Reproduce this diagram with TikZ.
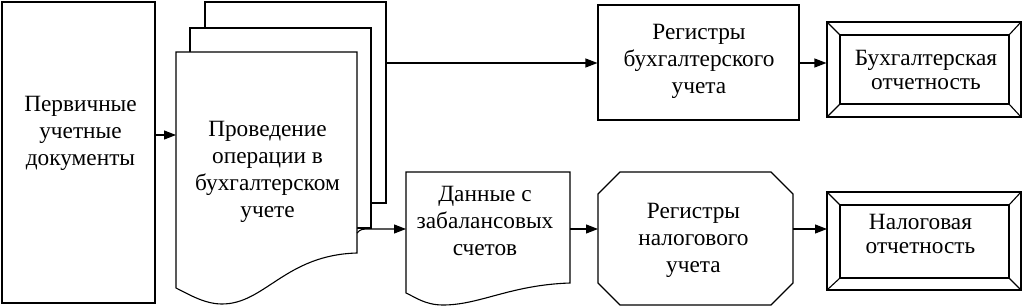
\documentclass[tikz,border=0pt]{standalone}
\usepackage{fontspec}
\setmainfont{Liberation Serif}
\usetikzlibrary{arrows.meta}
\begin{document}
\begin{tikzpicture}[x=1pt,y=-1pt, line width=1.1pt, line join=miter,
  txt/.style={align=center, font=\fontsize{23.3}{27}\selectfont, inner sep=0pt},
  stxt/.style={align=center, font=\fontsize{23.3}{24}\selectfont, inner sep=0pt},
  arr/.style={-{Triangle[length=12pt,width=9pt]}},
  page/.style={draw, fill=white}]
\useasboundingbox (0,0) rectangle (1023,307);
% primary documents
\node[draw, minimum width=153pt, minimum height=301pt, inner sep=0pt] (primbox) at (78.5,152.5) {};
\node[txt] (prim) at (80.5,133.5) {Первичные\\учетные\\документы};
% stacked documents
\draw[page] (205,2) rectangle (386,203);
\draw[page] (190,28) rectangle (371,228);
\draw[page] (176,52) -- (357,52) -- (357,253) .. controls (285,255) and (265,304) .. (222,304) .. controls (205,304) and (190,295) .. (176,288) -- cycle;
\node[txt] (prov) at (267.5,172) {Проведение\\операции в\\бухгалтерском\\учете};
\coordinate (docin) at (176,135);
\coordinate (docup) at (386,63);
\coordinate (docdn) at (357,233);
\coordinate (docdn2) at (372,229);
% registers of accounting
\node[draw, minimum width=201pt, minimum height=115pt, inner sep=0pt] (regbbox) at (698.5,62.5) {};
\node[txt] (regb) at (699,61.5) {Регистры\\бухгалтерского\\учета};
% off-balance data
\draw (406,172) -- (570,172) -- (570,283) .. controls (510,285) and (480,305) .. (443,305) .. controls (425,305) and (415,297) .. (406,293) -- cycle;
\node[txt] (dan) at (485,221) {Данные с\\забалансовых\\счетов};
\coordinate (danin) at (406,229);
\coordinate (danout) at (570,229);
% tax registers (octagon)
\draw (620,172) -- (771,172) -- (793,194) -- (793,283) -- (771,305) -- (620,305) -- (598,283) -- (598,194) -- cycle;
\node[txt] (regn) at (693.5,240.5) {Регистры\\налогового\\учета};
\coordinate (regnin) at (598,229);
\coordinate (regnout) at (793,229);
% accounting reports (bevel)
\node[draw, minimum width=194pt, minimum height=95pt, inner sep=0pt] (buhbox) at (924,69.5) {};
\draw (840,35) rectangle (1009,104);
\draw (827,22) -- (840,35) (1021,22) -- (1009,35) (827,117) -- (840,104) (1021,117) -- (1009,104);
\node[stxt] (buh) at (926,70) {Бухгалтерская\\отчетность};
% tax reports (bevel)
\node[draw, minimum width=194pt, minimum height=98pt, inner sep=0pt] (nalbox) at (924,241) {};
\draw (840,205) rectangle (1009,278);
\draw (827,192) -- (840,205) (1021,192) -- (1009,205) (827,290) -- (840,278) (1021,290) -- (1009,278);
\node[stxt] (nal) at (920.5,234) {Налоговая\\отчетность};
\coordinate (nalin) at (827,229);
% connectors
\draw[arr] (primbox.east |- docin) -- (docin);
\draw[arr] (docup) -- (regbbox.west |- docup);
\draw[arr] (regbbox.east |- docup) -- (buhbox.west |- docup);
\draw[arr] (docdn) .. controls (361,229) .. (docdn2) -- (danin);
\draw[arr] (danout) -- (regnin);
\draw[arr] (regnout) -- (nalin);
\end{tikzpicture}
\end{document}
